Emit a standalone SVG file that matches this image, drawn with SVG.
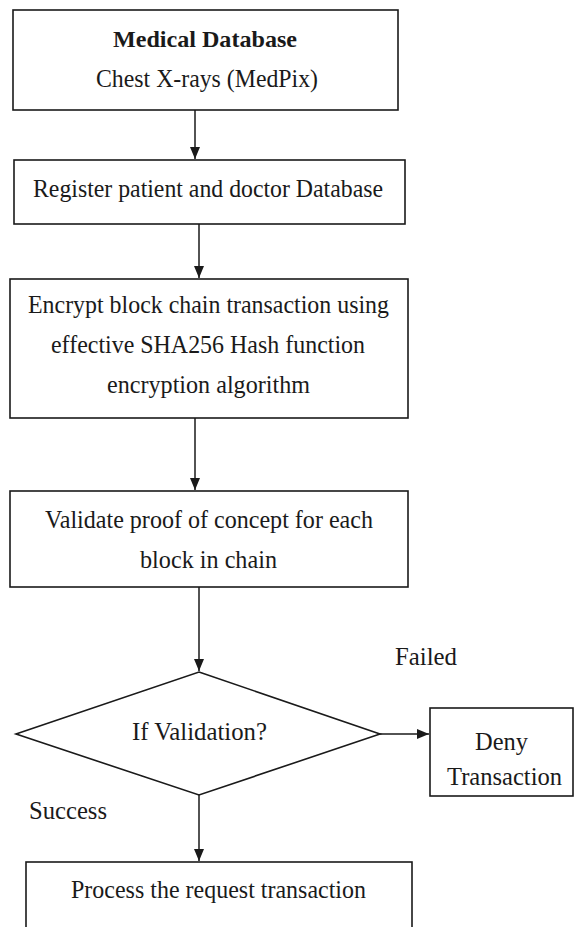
<svg xmlns="http://www.w3.org/2000/svg" width="575" height="927" viewBox="0 0 575 927">
  <style>
    .box { fill: #ffffff; stroke: #1a1a1a; stroke-width: 1.6; }
    .edge { fill: none; stroke: #1a1a1a; stroke-width: 1.5; }
    .t { font-family: "Liberation Serif", "Times New Roman", serif; font-size: 26px; fill: #1a1a1a; }
    .c { text-anchor: middle; }
    .b { font-weight: bold; font-size: 23px; }
  </style>
  <defs>
    <marker id="arrow" markerUnits="userSpaceOnUse" markerWidth="14" markerHeight="12" refX="12" refY="5" orient="auto">
      <path d="M0,0 L12,5 L0,10 Z" fill="#1a1a1a"/>
    </marker>
  </defs>
  <rect width="575" height="927" fill="#ffffff"/>

  <g id="connectors">
    <line class="edge" x1="195" y1="110" x2="195" y2="159" marker-end="url(#arrow)"/>
    <line class="edge" x1="199" y1="224" x2="199" y2="278" marker-end="url(#arrow)"/>
    <line class="edge" x1="195" y1="418" x2="195" y2="490" marker-end="url(#arrow)"/>
    <line class="edge" x1="199" y1="587" x2="199" y2="671" marker-end="url(#arrow)"/>
    <line class="edge" x1="380" y1="734" x2="429" y2="734" marker-end="url(#arrow)"/>
    <line class="edge" x1="199" y1="795" x2="199" y2="861" marker-end="url(#arrow)"/>
  </g>

  <g id="medical-database">
    <rect class="box" x="13" y="10" width="385" height="100"/>
    <text class="t c b" x="205" y="47" textLength="184" lengthAdjust="spacingAndGlyphs">Medical Database</text>
    <text class="t c" x="207" y="87" textLength="222" lengthAdjust="spacingAndGlyphs">Chest X-rays (MedPix)</text>
  </g>

  <g id="register">
    <rect class="box" x="14" y="160" width="391" height="64"/>
    <text class="t c" x="208" y="197" textLength="350" lengthAdjust="spacingAndGlyphs">Register patient and doctor Database</text>
  </g>

  <g id="encrypt">
    <rect class="box" x="10" y="279" width="398" height="139"/>
    <text class="t c" x="208.5" y="313" textLength="361" lengthAdjust="spacingAndGlyphs">Encrypt block chain transaction using</text>
    <text class="t c" x="208" y="353" textLength="314" lengthAdjust="spacingAndGlyphs">effective SHA256 Hash function</text>
    <text class="t c" x="208.5" y="393" textLength="203" lengthAdjust="spacingAndGlyphs">encryption algorithm</text>
  </g>

  <g id="validate">
    <rect class="box" x="10" y="491" width="398" height="96"/>
    <text class="t c" x="209" y="528" textLength="328" lengthAdjust="spacingAndGlyphs">Validate proof of concept for each</text>
    <text class="t c" x="208.5" y="568" textLength="137" lengthAdjust="spacingAndGlyphs">block in chain</text>
  </g>

  <g id="decision">
    <polygon class="box" points="199,672 380,734 199,795 16,734"/>
    <text class="t c" x="199.5" y="740" textLength="135" lengthAdjust="spacingAndGlyphs">If Validation?</text>
  </g>

  <g id="labels">
    <text class="t" x="395" y="665" textLength="62" lengthAdjust="spacingAndGlyphs">Failed</text>
    <text class="t" x="29" y="819" textLength="78" lengthAdjust="spacingAndGlyphs">Success</text>
  </g>

  <g id="deny">
    <rect class="box" x="430" y="708" width="143" height="88"/>
    <text class="t c" x="501.5" y="750" textLength="53" lengthAdjust="spacingAndGlyphs">Deny</text>
    <text class="t c" x="504.5" y="785" textLength="115" lengthAdjust="spacingAndGlyphs">Transaction</text>
  </g>

  <g id="process">
    <rect class="box" x="26" y="862" width="386" height="80"/>
    <text class="t c" x="218.5" y="898" textLength="295" lengthAdjust="spacingAndGlyphs">Process the request transaction</text>
  </g>
</svg>
